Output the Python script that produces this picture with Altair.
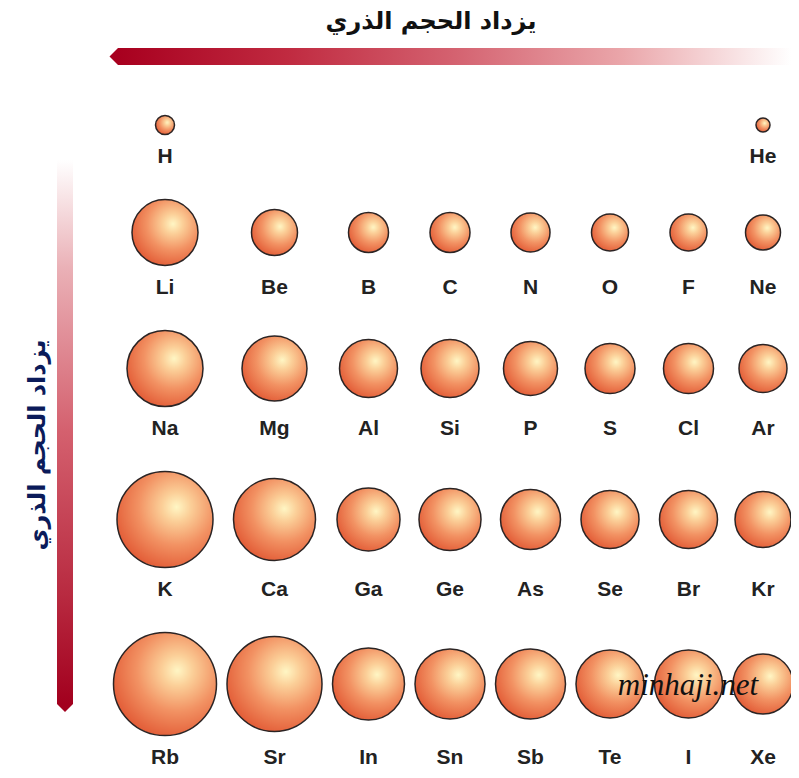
import altair as alt
import pandas as pd

# ---------------- data ----------------
title_text = "يزداد الحجم الذري"
watermark = "minhaji.net"

# period 1
p1_symbols = ["H", "He"]
p1_columns = [0, 7]
p1_sizes = [19, 14]
# period 2
p2_symbols = ["Li", "Be", "B", "C", "N", "O", "F", "Ne"]
p2_sizes = [66, 46, 40, 40, 39, 37, 37, 35]
# period 3
p3_symbols = ["Na", "Mg", "Al", "Si", "P", "S", "Cl", "Ar"]
p3_sizes = [76, 65, 58, 58, 54, 50, 50, 48]
# period 4
p4_symbols = ["K", "Ca", "Ga", "Ge", "As", "Se", "Br", "Kr"]
p4_sizes = [96, 82, 63, 62, 60, 58, 58, 56]
# period 5
p5_symbols = ["Rb", "Sr", "In", "Sn", "Sb", "Te", "I", "Xe"]
p5_sizes = [103, 95, 72, 70, 70, 68, 68, 60]

# ---------------- build table ----------------
records = []
for s, c, d in zip(p1_symbols, p1_columns, p1_sizes):
    records.append(dict(symbol=s, period=1, col=c, size=d))
for per, syms, sizes in [(2, p2_symbols, p2_sizes), (3, p3_symbols, p3_sizes),
                         (4, p4_symbols, p4_sizes), (5, p5_symbols, p5_sizes)]:
    for c, (s, d) in enumerate(zip(syms, sizes)):
        records.append(dict(symbol=s, period=per, col=c, size=d))
df = pd.DataFrame(records)

# packed layout: each column / row as wide as its largest atom
COL_GAP = 10.5
ROW_GAP = 65
col_max = df.groupby("col")["size"].max().sort_index()
row_max = df.groupby("period")["size"].max().sort_index()
col_center, pos, prev = {}, 0.0, None
for c, m in col_max.items():
    pos = m / 2 if prev is None else pos + prev / 2 + COL_GAP + m / 2
    col_center[c] = pos
    prev = m
row_center, pos, prev = {}, 0.0, None
for r, m in row_max.items():
    pos = m / 2 if prev is None else pos + prev / 2 + ROW_GAP + m / 2
    row_center[r] = pos
    prev = m
df["cx"] = df["col"].map(col_center)
df["cy"] = df["period"].map(row_center)
df["ly"] = df["cy"] + df["period"].map(row_max) / 2 + 22
df["area"] = df["size"] ** 2

W, H = 783, 762
X_OFF, Y_OFF = 105.5, 107.5
xs = alt.Scale(domain=[-X_OFF, W - X_OFF], nice=False, zero=False)
ys = alt.Scale(domain=[-Y_OFF, H - Y_OFF], nice=False, zero=False, reverse=True)

ball_fill = alt.RadialGradient(
    gradient="radial",
    stops=[
        alt.GradientStop(color="#fff6c4", offset=0),
        alt.GradientStop(color="#fbcf98", offset=0.22),
        alt.GradientStop(color="#f29263", offset=0.58),
        alt.GradientStop(color="#e25b36", offset=1),
    ],
    x1=0.62, y1=0.37, r1=0, x2=0.62, y2=0.37, r2=0.68,
)

balls = alt.Chart(df).mark_circle(
    fill=ball_fill, stroke="#2b2424", strokeWidth=1.5, opacity=1
).encode(
    x=alt.X("cx:Q", scale=xs, axis=None),
    y=alt.Y("cy:Q", scale=ys, axis=None),
    size=alt.Size("area:Q", scale=alt.Scale(domain=[0, 10000], range=[0, 10000]), legend=None),
)

labels = alt.Chart(df).mark_text(
    font="Liberation Sans", fontWeight="bold", fontSize=21, color="#222222",
    baseline="middle", align="center"
).encode(
    x=alt.X("cx:Q", scale=xs, axis=None),
    y=alt.Y("ly:Q", scale=ys, axis=None),
    text="symbol:N",
)

one = pd.DataFrame({"a": [0]})

h_grad = alt.LinearGradient(
    gradient="linear", x1=0, y1=0, x2=1, y2=0,
    stops=[
        alt.GradientStop(color="#a8001f", offset=0),
        alt.GradientStop(color="#c02a40", offset=0.25),
        alt.GradientStop(color="#d46270", offset=0.5),
        alt.GradientStop(color="#eaa6aa", offset=0.75),
        alt.GradientStop(color="#ffffff", offset=1),
    ],
)
h_body = alt.Chart(one).mark_rect(fill=h_grad).encode(
    x=alt.value(110), x2=alt.value(W), y=alt.value(40), y2=alt.value(57)
)
h_tip = alt.Chart(one).mark_point(
    shape="M -0.5 0 L 0.5 -1 L 0.5 1 Z", filled=True, fill="#a8001f",
    size=289, opacity=1, strokeWidth=0
).encode(x=alt.value(105.75), y=alt.value(48.5))

v_grad = alt.LinearGradient(
    gradient="linear", x1=0, y1=0, x2=0, y2=1,
    stops=[
        alt.GradientStop(color="#ffffff", offset=0),
        alt.GradientStop(color="#eab0b6", offset=0.2),
        alt.GradientStop(color="#d4606e", offset=0.5),
        alt.GradientStop(color="#b82a40", offset=0.8),
        alt.GradientStop(color="#a2001e", offset=1),
    ],
)
v_body = alt.Chart(one).mark_rect(fill=v_grad).encode(
    x=alt.value(49), x2=alt.value(65), y=alt.value(152), y2=alt.value(696)
)
v_tip = alt.Chart(one).mark_point(
    shape="M 0 0.5 L -1 -0.5 L 1 -0.5 Z", filled=True, fill="#a2001e",
    size=256, opacity=1, strokeWidth=0
).encode(x=alt.value(57), y=alt.value(700))

top_title = alt.Chart(one).mark_text(
    text=title_text, font="DejaVu Sans", fontWeight="bold", fontSize=24,
    color="#111111", align="center", baseline="middle"
).encode(x=alt.value(423), y=alt.value(14))

side_title = alt.Chart(one).mark_text(
    text=title_text, font="DejaVu Sans", fontWeight="bold", fontSize=24,
    color="#0b1b5a", align="center", baseline="middle", angle=270
).encode(x=alt.value(30), y=alt.value(437))

mark = alt.Chart(one).mark_text(
    text=watermark, font="Liberation Serif", fontStyle="italic", fontSize=31,
    color="#111111", align="center", baseline="middle"
).encode(x=alt.value(680), y=alt.value(678))

chart = alt.layer(
    h_body, h_tip, v_body, v_tip, top_title, side_title, balls, labels, mark
).properties(
    width=W, height=H, padding=0,
    autosize=alt.AutoSizeParams(type="none"),
).configure_view(stroke=None)

chart.save("out.html", embed_options={"renderer": "svg", "actions": False})
